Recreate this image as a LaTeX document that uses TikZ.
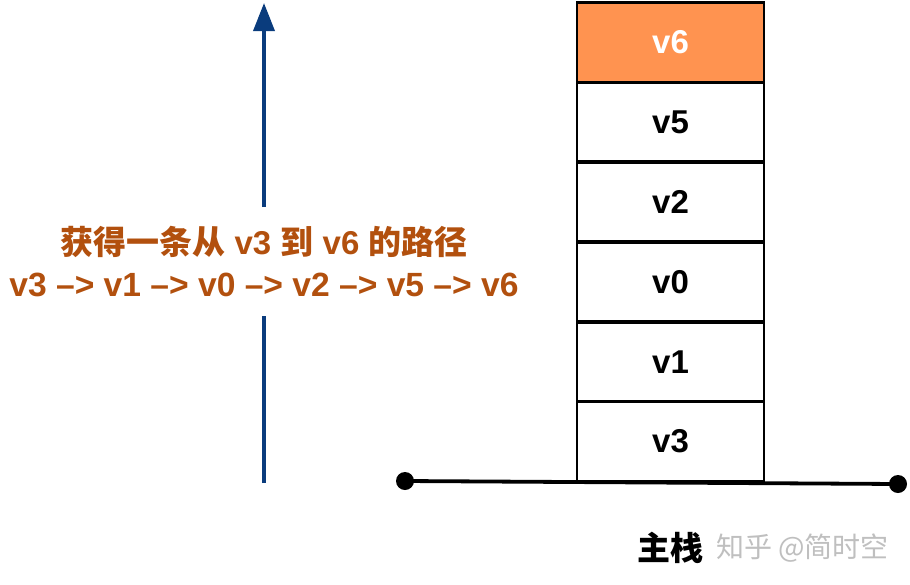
\documentclass[tikz,border=0pt]{standalone}
\usepackage{fontspec}
\setmainfont{Liberation Sans}
\newfontfamily\cjk{Noto Sans CJK SC}
\usetikzlibrary{arrows.meta}
\definecolor{pathtext}{RGB}{178,80,14}
\definecolor{topfill}{RGB}{255,147,80}
\definecolor{arrowblue}{RGB}{10,60,125}
\tikzset{
  cell/.style={draw=black,line width=2.6pt,minimum width=187pt,minimum height=79.5pt,inner sep=0pt,
    font=\fontsize{33}{38}\selectfont\bfseries},
  dot/.style={circle,fill=black,minimum size=18pt,inner sep=0pt},
  ptext/.style={font=\fontsize{33}{43}\selectfont\bfseries,text=pathtext,align=center,inner sep=0pt},
}
\begin{document}
\begin{tikzpicture}[x=1pt,y=-1pt]
\useasboundingbox (0,0) rectangle (910,584);
% stack
\node[cell,fill=topfill,text=white] (c6) at (670.5,42.5) {v6};
\node[cell] (c5) at (670.5,122) {v5};
\node[cell] (c2) at (670.5,202) {v2};
\node[cell] (c0) at (670.5,282) {v0};
\node[cell] (c1) at (670.5,362) {v1};
\node[cell] (c3) at (670.5,441.5) {v3};
% base line
\node[dot] (l) at (405,481) {};
\node[dot] (r) at (898,484) {};
\draw[line width=3.8pt] (l.center) -- (r.center);
% arrow
\coordinate (abot) at (264,483);
\coordinate (alow) at (264,316);
\coordinate (ahigh) at (264,207);
\coordinate (atop) at (264,3);
\draw[arrowblue,line width=3.6pt] (abot) -- (alow);
\draw[arrowblue,line width=3.6pt,-{Triangle[length=28pt,width=21pt]}] (ahigh) -- (atop);
% text
\node[ptext] (t1) at (264,242) {{\cjk\bfseries 获得一条从} v3 {\cjk\bfseries 到} v6 {\cjk\bfseries 的路径}};
\node[ptext,font=\fontsize{33.6}{43}\selectfont\bfseries] (t2) at (264,285) {v3 \textendash> v1 \textendash> v0 \textendash> v2 \textendash> v5 \textendash> v6};
% labels
\node[font=\fontsize{33}{40}\selectfont\cjk\bfseries,inner sep=0pt] (main) at (670,548) {主栈};
\node[font=\fontsize{28}{34}\selectfont\cjk,text=black!25,inner sep=0pt,anchor=west] (wm) at (716,548) {知乎 @简时空};
\end{tikzpicture}
\end{document}
